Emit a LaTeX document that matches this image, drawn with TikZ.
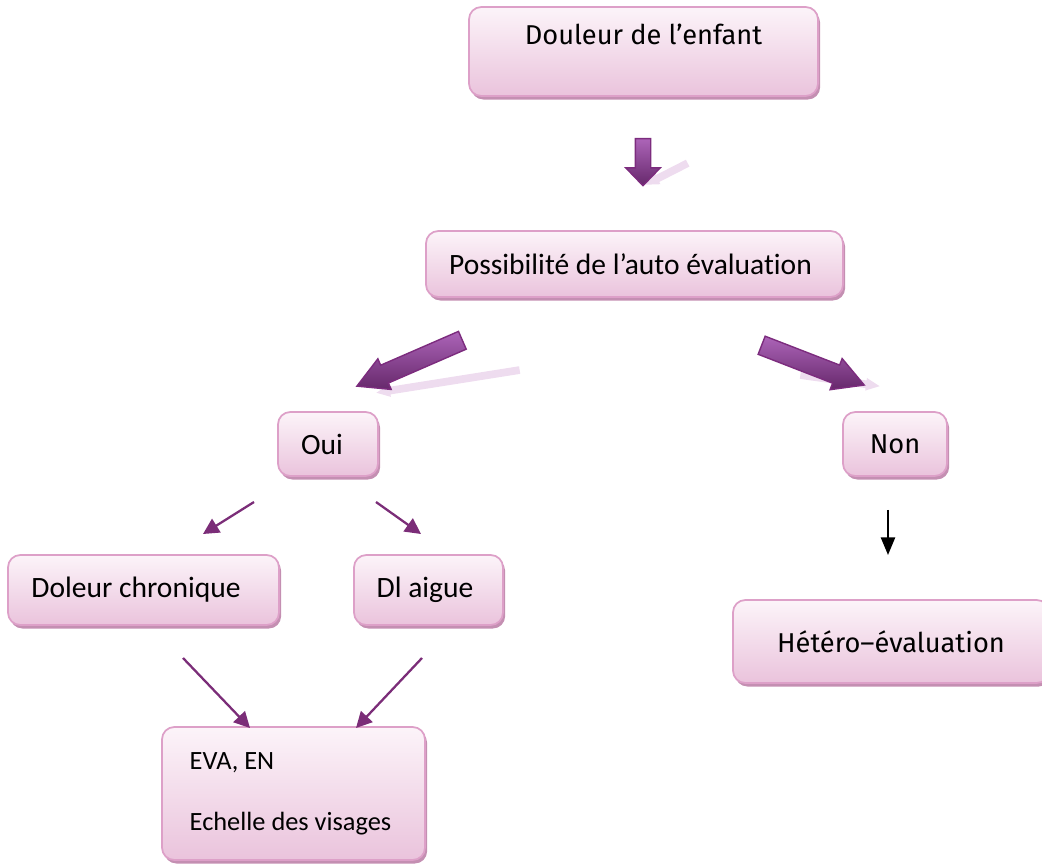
\documentclass[tikz,border=0pt]{standalone}
\usepackage{fontspec}
\setmainfont{Carlito}[Ligatures=NoCommon]
\newfontfamily\trebfont{Fira Sans}
\usetikzlibrary{shapes.arrows,shadows,arrows.meta}

\definecolor{boxtop}{HTML}{FCF4F9}
\definecolor{boxbot}{HTML}{EAC3DC}
\definecolor{boxline}{HTML}{DDA0C8}
\definecolor{boxshadow}{HTML}{C48FB2}
\definecolor{arrowlight}{HTML}{AC64B8}
\definecolor{arrowdark}{HTML}{66286B}
\definecolor{arrowline}{HTML}{7C2C7E}
\definecolor{arrowghost}{HTML}{EEDCEF}
\definecolor{thinpurple}{HTML}{7B2D78}

\tikzset{
  box/.style={draw=boxline, line width=1pt, rounded corners=7pt,
    top color=boxtop, bottom color=boxbot, font=\fontsize{16.8}{20}\selectfont,
    drop shadow={shadow xshift=1.2pt, shadow yshift=-2pt, fill=boxshadow, opacity=1}},
  trebbox/.style={box, font=\trebfont\fontsize{15.5}{18}\selectfont},
  bigarrow/.style={single arrow, draw=arrowline, line width=0.8pt, inner xsep=0pt,
    inner ysep=0.18cm, top color=arrowlight, bottom color=arrowdark,
    single arrow head extend=0.14cm, single arrow tip angle=58},
  ghost/.style={single arrow, fill=arrowghost, inner xsep=0pt, inner ysep=0.07cm,
    single arrow head extend=0.05cm, single arrow tip angle=50},
  thinarrow/.style={draw=thinpurple, line width=1.3pt, -{Triangle[length=9pt, width=9pt]}},
}

\begin{document}
\begin{tikzpicture}
    \useasboundingbox (0,0) rectangle (20.84,-17.3);
    % boxes
    \node[trebbox, minimum width=6.98cm, inner ysep=0.3cm, text height=0.46cm, text depth=0.72cm] (enfant) at (12.87,-1.03) {Douleur de l’enfant};
    \node[box, minimum width=8.34cm, minimum height=1.32cm] (auto) at (12.69,-5.28) {Possibilité de l’auto évaluation\kern0.16cm};
    \node[box, minimum width=2.0cm, minimum height=1.28cm] (oui) at (6.56,-8.88) {Oui\kern0.24cm};
    \node[trebbox, minimum width=2.08cm, minimum height=1.28cm] (non) at (17.9,-8.88) {Non};
    \node[box, minimum width=5.42cm, minimum height=1.4cm] (chronique) at (2.87,-11.8) {Doleur chronique\kern0.3cm};
    \node[box, minimum width=2.98cm, minimum height=1.4cm] (aigue) at (8.57,-11.8) {Dl aigue\kern0.14cm};
    \node[trebbox, minimum width=6.32cm, minimum height=1.66cm] (hetero) at (17.82,-12.83) {Hétéro–évaluation};
    \node[box, minimum width=5.26cm, minimum height=2.66cm, align=left,
          font=\fontsize{15}{17}\selectfont] (eva) at (5.87,-15.87) {EVA, EN\\[0.62cm]Echelle des visages\kern0.12cm};

    % block arrows with their faint shadows
    \node[ghost, minimum height=0.95cm, rotate=207, anchor=tail] (g1) at (13.76,-3.26) {};
    \node[ghost, minimum height=2.9cm, rotate=189, anchor=tail] (g2) at (10.4,-7.4) {};
    \node[ghost, minimum height=1.6cm, rotate=-8, anchor=tail] (g3) at (16.0,-7.5) {};
    \node[bigarrow, minimum height=0.94cm, inner ysep=0.14cm, single arrow head extend=0.19cm,
          single arrow tip angle=88, rotate=-90, anchor=tail] (a1) at (12.86,-2.76) {};
    \node[bigarrow, minimum height=2.3cm, rotate=203.5, anchor=tail] (a2) at (9.26,-6.8) {};
    \node[bigarrow, minimum height=2.2cm, rotate=-21.2, anchor=tail] (a3) at (15.22,-6.9) {};

    % thin arrows
    \coordinate (o1) at (5.08,-10.04);
    \coordinate (c1) at (4.06,-10.68);
    \coordinate (o2) at (7.52,-10.04);
    \coordinate (d1) at (8.42,-10.68);
    \coordinate (c2) at (3.66,-13.16);
    \coordinate (e1) at (5.0,-14.56);
    \coordinate (d2) at (8.44,-13.16);
    \coordinate (e2) at (7.12,-14.56);
    \coordinate (n1) at (17.76,-10.2);
    \coordinate (h1) at (17.76,-11.1);
    \draw[thinarrow] (o1) -- (c1);
    \draw[thinarrow] (o2) -- (d1);
    \draw[thinarrow] (c2) -- (e1);
    \draw[thinarrow] (d2) -- (e2);
    \draw[line width=1.2pt, -{Triangle[length=10pt, width=8pt]}] (n1) -- (h1);
\end{tikzpicture}
\end{document}
